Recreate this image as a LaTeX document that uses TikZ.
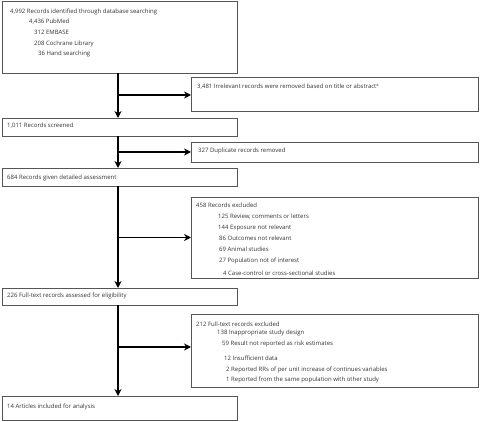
\documentclass[tikz,border=0pt]{standalone}
\usepackage{fontspec}
\setmainfont{Open Sans}
\usetikzlibrary{arrows.meta}
\definecolor{boxgray}{HTML}{555555}
\definecolor{txtgray}{HTML}{333333}
\begin{document}
\begin{tikzpicture}[x=1pt,y=-1pt,
  box/.style={draw=boxgray, line width=0.9pt, anchor=north west, inner sep=0pt, outer sep=0pt},
  txt/.style={anchor=west, inner sep=0pt, font=\fontsize{6}{7}\selectfont, text=txtgray},
  flow/.style={draw=black, line width=1.4pt, -{Stealth[length=7pt,width=7pt]}}]
\useasboundingbox (0,0) rectangle (480,422);
% boxes
\node[box, minimum width=235pt, minimum height=72pt] (b1) at (2,1) {};
\node[box, minimum width=287pt, minimum height=34pt] (b2) at (191,77) {};
\node[box, minimum width=235pt, minimum height=18pt] (b3) at (2,118) {};
\node[box, minimum width=287pt, minimum height=20pt] (b4) at (191,142) {};
\node[box, minimum width=235pt, minimum height=18pt] (b5) at (2,168) {};
\node[box, minimum width=287pt, minimum height=81pt] (b6) at (191,197) {};
\node[box, minimum width=235pt, minimum height=17pt] (b7) at (2,288) {};
\node[box, minimum width=287pt, minimum height=73pt] (b8) at (191,314) {};
\node[box, minimum width=235pt, minimum height=24pt] (b9) at (2,396) {};
% texts
\node[txt] (t1a) at (10,12) {4,992 Records identified through database searching};
\node[txt] (t1b) at (29,22) {4,436 PubMed};
\node[txt] (t1c) at (34,32) {312 EMBASE};
\node[txt] (t1d) at (34,44) {208 Cochrane Library};
\node[txt] (t1e) at (38,54) {36 Hand searching};
\node[txt] (t2) at (197,87) {3,481 Irrelevant records were removed based on title or abstract{\fontsize{4}{4}\selectfont\raisebox{2pt}{a}}};
\node[txt] (t3) at (7,126) {1,011 Records screened};
\node[txt] (t4) at (198,151) {327 Duplicate records removed};
\node[txt] (t5) at (7,178) {684 Records given detailed assessment};
\node[txt] (t6a) at (196,205) {458 Records excluded};
\node[txt] (t6b) at (218,217) {125 Review, comments or letters};
\node[txt] (t6c) at (218,228) {144 Exposure not relevant};
\node[txt] (t6d) at (219,238) {86 Outcomes not relevant};
\node[txt] (t6e) at (219,249) {69 Animal studies};
\node[txt] (t6f) at (219,261) {27 Population not of interest};
\node[txt] (t6g) at (223,273) {4 Case-control or cross-sectional studies};
\node[txt] (t7) at (7,296) {226 Full-text records assessed for eligibility};
\node[txt] (t8a) at (196,324) {212 Full-text records excluded};
\node[txt] (t8b) at (217,333) {138 Inappropriate study design};
\node[txt] (t8c) at (222,344) {59 Result not reported as risk estimates};
\node[txt] (t8d) at (224,358) {12 Insufficient data};
\node[txt] (t8e) at (226,370) {2 Reported RRs of per unit increase of continues variables};
\node[txt] (t8f) at (226,380) {1 Reported from the same population with other study};
\node[txt] (t9) at (7,407) {14 Articles included for analysis};
% connectors
\coordinate (spine) at (118,0);
\draw[flow] (b1.south -| spine) -- (b3.north -| spine);
\draw[flow] (b3.south -| spine) -- (b5.north -| spine);
\draw[flow] (b5.south -| spine) -- (b7.north -| spine);
\draw[flow] (b7.south -| spine) -- (b9.north -| spine);
\coordinate (a2) at ([yshift=-1pt]b2.west);
\coordinate (a8) at ([yshift=3.5pt]b8.west);
\draw[flow] (spine |- a2) -- (a2);
\draw[flow] (spine |- b4.west) -- (b4.west);
\draw[flow] (spine |- b6.west) -- (b6.west);
\draw[flow] (spine |- a8) -- (a8);
\end{tikzpicture}
\end{document}
